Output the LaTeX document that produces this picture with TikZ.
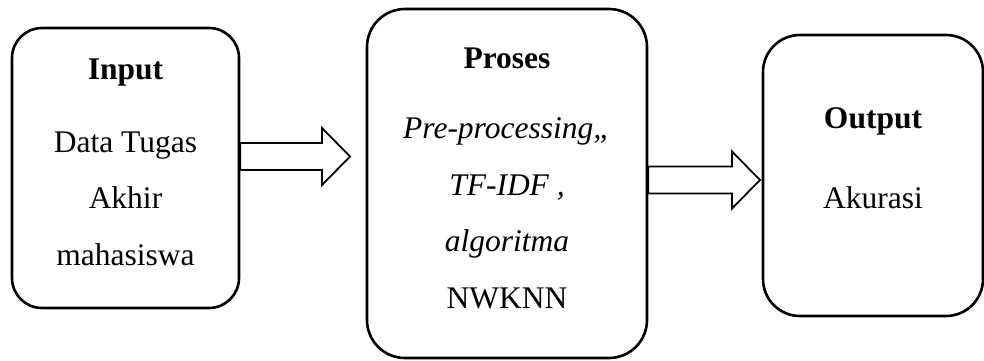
\documentclass[tikz,border=0pt]{standalone}
\usepackage{fontspec}
\setmainfont{Liberation Serif}
\usepackage{tikz}
\usetikzlibrary{calc}

\begin{document}
\begin{tikzpicture}[x=1pt,y=1pt,
	box node/.style={draw,line width=2.6pt,rounded corners=#1,fill=white,inner sep=0pt},
	text node/.style={align=center,anchor=north,inner sep=0pt,font=\fontsize{31.5}{56.5}\selectfont},
	block arrow/.style={draw,fill=white,line width=1.8pt,line join=miter,
		to path={($(\tikztostart)+(0,13.5)$) -- ($(\tikztotarget)+(-28,13.5)$)
			-- ($(\tikztotarget)+(-28,28.5)$) -- (\tikztotarget)
			-- ($(\tikztotarget)+(-28,-28.5)$) -- ($(\tikztotarget)+(-28,-13.5)$)
			-- ($(\tikztostart)+(0,-13.5)$) -- cycle}}]

	\useasboundingbox (0,0) rectangle (984,360);

	\node[box node=30pt,minimum width=227,minimum height=280] (input) at (125.5,192) {};
	\node[box node=38pt,minimum width=280,minimum height=349] (proses) at (507,176.5) {};
	\node[box node=37pt,minimum width=220,minimum height=281] (output) at (873,184.5) {};

	\node[text node] (input text) at (125.5,301)
		{\textbf{Input}\\[16pt] Data Tugas\\ Akhir\\ mahasiswa};
	\node[text node] (proses text) at (507,312)
		{\textbf{Proses}\\[13.5pt] \textit{Pre-processing,,}\\ \textit{TF-IDF ,}\\ \textit{algoritma}\\ NWKNN};
	\node[text node] (output text) at (873,252.5)
		{\textbf{Output}\\[23.5pt] Akurasi};

	\path (input.east) ++(0,11.5) coordinate (a1);
	\coordinate (b1) at (350,203.5);
	\path (proses.east) ++(0,3.5) coordinate (a2);
	\coordinate (b2) at (760,180);

	\draw[block arrow] (a1) to (b1);
	\draw[block arrow] (a2) to (b2);
\end{tikzpicture}
\end{document}
